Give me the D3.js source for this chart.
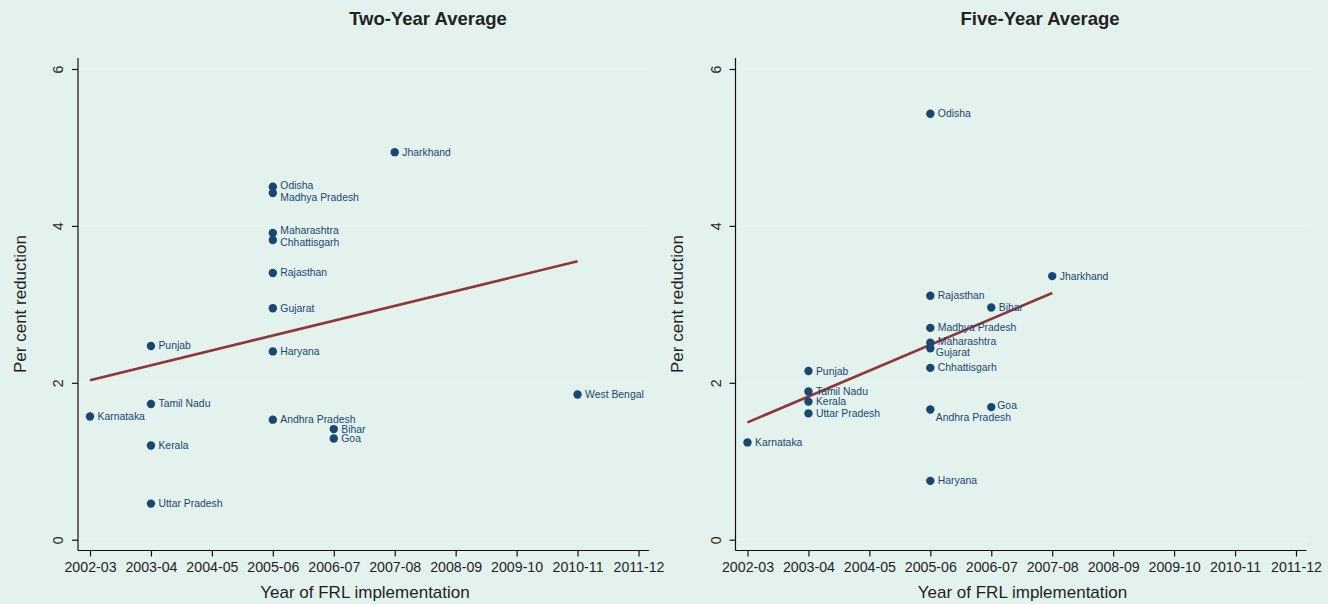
<!DOCTYPE html>
<html>
<head>
<meta charset="utf-8">
<script src="https://cdn.jsdelivr.net/npm/d3@7"></script>
<style>
  html, body { margin: 0; padding: 0; background: #e4f2ee; }
  svg { display: block; }
  text { font-family: "Liberation Sans", Arial, Helvetica, sans-serif; }
</style>
</head>
<body>
<svg id="chart" width="1328" height="604"></svg>
<script>
// Fiscal years on the horizontal axis
const years = ["2002-03", "2003-04", "2004-05", "2005-06", "2006-07",
               "2007-08", "2008-09", "2009-10", "2010-11", "2011-12"];
const yTicks = [0, 2, 4, 6];

// Two-year average reduction (per cent)
const twoYearStates = ["Karnataka", "Punjab", "Tamil Nadu", "Kerala", "Uttar Pradesh",
  "Odisha", "Madhya Pradesh", "Maharashtra", "Chhattisgarh", "Rajasthan", "Gujarat",
  "Haryana", "Andhra Pradesh", "Bihar", "Goa", "Jharkhand", "West Bengal"];
const twoYearFRL = ["2002-03", "2003-04", "2003-04", "2003-04", "2003-04",
  "2005-06", "2005-06", "2005-06", "2005-06", "2005-06", "2005-06",
  "2005-06", "2005-06", "2006-07", "2006-07", "2007-08", "2010-11"];
const twoYearValues = [1.57, 2.47, 1.73, 1.20, 0.46,
  4.50, 4.42, 3.91, 3.82, 3.40, 2.95,
  2.40, 1.53, 1.41, 1.29, 4.94, 1.85];

// Five-year average reduction (per cent)
const fiveYearStates = ["Karnataka", "Punjab", "Tamil Nadu", "Kerala", "Uttar Pradesh",
  "Odisha", "Rajasthan", "Madhya Pradesh", "Maharashtra", "Gujarat", "Chhattisgarh",
  "Andhra Pradesh", "Haryana", "Bihar", "Goa", "Jharkhand"];
const fiveYearFRL = ["2002-03", "2003-04", "2003-04", "2003-04", "2003-04",
  "2005-06", "2005-06", "2005-06", "2005-06", "2005-06", "2005-06",
  "2005-06", "2005-06", "2006-07", "2006-07", "2007-08"];
const fiveYearValues = [1.24, 2.15, 1.89, 1.76, 1.61,
  5.43, 3.11, 2.70, 2.51, 2.44, 2.19,
  1.66, 0.75, 2.96, 1.69, 3.36];

// Label nudges [dx, dy] for crowded markers
const labelNudge = {
  two: { "Odisha": [0, -1], "Madhya Pradesh": [0, 4.5], "Maharashtra": [0, -2.5], "Chhattisgarh": [0, 2.5] },
  five: { "Maharashtra": [0, -1.5], "Gujarat": [-2, 4.5], "Andhra Pradesh": [-2, 8], "Goa": [-1.5, -1.5] }
};

const COLORS = { dot: "#1a476f", fit: "#90353b", text: "#1f1f1f", grid: "#ecf7f3" };

const svg = d3.select("#chart");

function fitLine(xs, ys) {
  const mx = d3.mean(xs), my = d3.mean(ys);
  const sxy = d3.sum(xs, (x, i) => (x - mx) * (ys[i] - my));
  const sxx = d3.sum(xs, x => (x - mx) * (x - mx));
  const b = sxy / sxx;
  return { a: my - b * mx, b };
}

function panel(opts) {
  const { key, title, titleX, states, frl, values, left } = opts;
  const g = svg.append("g");

  const x = d3.scalePoint().domain(years).range([left + 12, left + 560.5]);
  const y = d3.scaleLinear().domain([0, 6]).range([539.7, 69]);
  const xAxisY = 550.5;
  const xStart = left, xEnd = left + 571;

  // faint grid lines
  g.selectAll("line.grid").data(yTicks).join("line")
    .attr("x1", xStart + 1).attr("x2", xEnd)
    .attr("y1", d => y(d)).attr("y2", d => y(d))
    .attr("stroke", COLORS.grid).attr("stroke-width", 1);

  // axes lines
  g.append("line").attr("x1", xStart).attr("x2", xStart)
    .attr("y1", 58).attr("y2", xAxisY).attr("stroke", "#111").attr("stroke-width", 1.2);
  g.append("line").attr("x1", xStart).attr("x2", xEnd)
    .attr("y1", xAxisY).attr("y2", xAxisY).attr("stroke", "#111").attr("stroke-width", 1.2);

  // x axis
  const xa = g.append("g").attr("transform", `translate(0,${xAxisY})`)
    .call(d3.axisBottom(x).tickSize(6).tickPadding(5));
  xa.select(".domain").remove();
  xa.selectAll(".tick line").attr("stroke", "#111").attr("stroke-width", 1.2);
  xa.selectAll(".tick text").attr("font-size", 14.2).attr("fill", COLORS.text)
    .attr("font-family", "'Liberation Sans', Arial, sans-serif");

  // y axis
  const ya = g.append("g").attr("transform", `translate(${xStart},0)`)
    .call(d3.axisLeft(y).tickValues(yTicks).tickFormat(d3.format("d")).tickSize(6).tickPadding(0));
  ya.select(".domain").remove();
  ya.selectAll(".tick line").attr("stroke", "#111").attr("stroke-width", 1.2);
  ya.selectAll(".tick text")
    .attr("font-size", 14.2).attr("fill", COLORS.text)
    .attr("font-family", "'Liberation Sans', Arial, sans-serif")
    .attr("x", null).attr("dy", null)
    .attr("text-anchor", "middle")
    .attr("transform", "translate(-20,0) rotate(-90)")
    .attr("dominant-baseline", "central");

  // axis titles
  g.append("text").attr("x", left + 287).attr("y", 592)
    .attr("text-anchor", "middle").attr("dominant-baseline", "central")
    .attr("font-size", 17).attr("fill", COLORS.text).text("Year of FRL implementation");
  g.append("text")
    .attr("transform", `translate(${left - 58},${304}) rotate(-90)`)
    .attr("text-anchor", "middle").attr("dominant-baseline", "central")
    .attr("font-size", 17).attr("fill", COLORS.text).text("Per cent reduction");

  // panel title
  g.append("text").attr("x", titleX).attr("y", 18)
    .attr("text-anchor", "middle").attr("dominant-baseline", "central")
    .attr("font-size", 18.5).attr("font-weight", "bold").attr("fill", "#222")
    .text(title);

  // linear fit across the observed range
  const idx = frl.map(f => years.indexOf(f));
  const fit = fitLine(idx, values);
  const x0 = d3.min(idx), x1 = d3.max(idx);
  g.append("line")
    .attr("x1", x(years[x0])).attr("y1", y(fit.a + fit.b * x0))
    .attr("x2", x(years[x1])).attr("y2", y(fit.a + fit.b * x1))
    .attr("stroke", COLORS.fit).attr("stroke-width", 2.6);

  // markers and labels
  const data = states.map((s, i) => ({ s, f: frl[i], v: values[i] }));
  g.selectAll("circle.pt").data(data).join("circle")
    .attr("cx", d => x(d.f)).attr("cy", d => y(d.v)).attr("r", 4.2)
    .attr("fill", COLORS.dot);

  const nudge = labelNudge[key];
  g.selectAll("text.lbl").data(data).join("text")
    .attr("x", d => x(d.f) + 7.5 + ((nudge[d.s] || [0, 0])[0]))
    .attr("y", d => y(d.v) + ((nudge[d.s] || [0, 0])[1]))
    .attr("dominant-baseline", "central")
    .attr("font-size", 10.4).attr("fill", COLORS.dot)
    .text(d => d.s);
}

panel({ key: "two", title: "Two-Year Average", titleX: 428,
        states: twoYearStates, frl: twoYearFRL, values: twoYearValues, left: 78 });
panel({ key: "five", title: "Five-Year Average", titleX: 1040,
        states: fiveYearStates, frl: fiveYearFRL, values: fiveYearValues, left: 735.5 });
</script>
</body>
</html>
